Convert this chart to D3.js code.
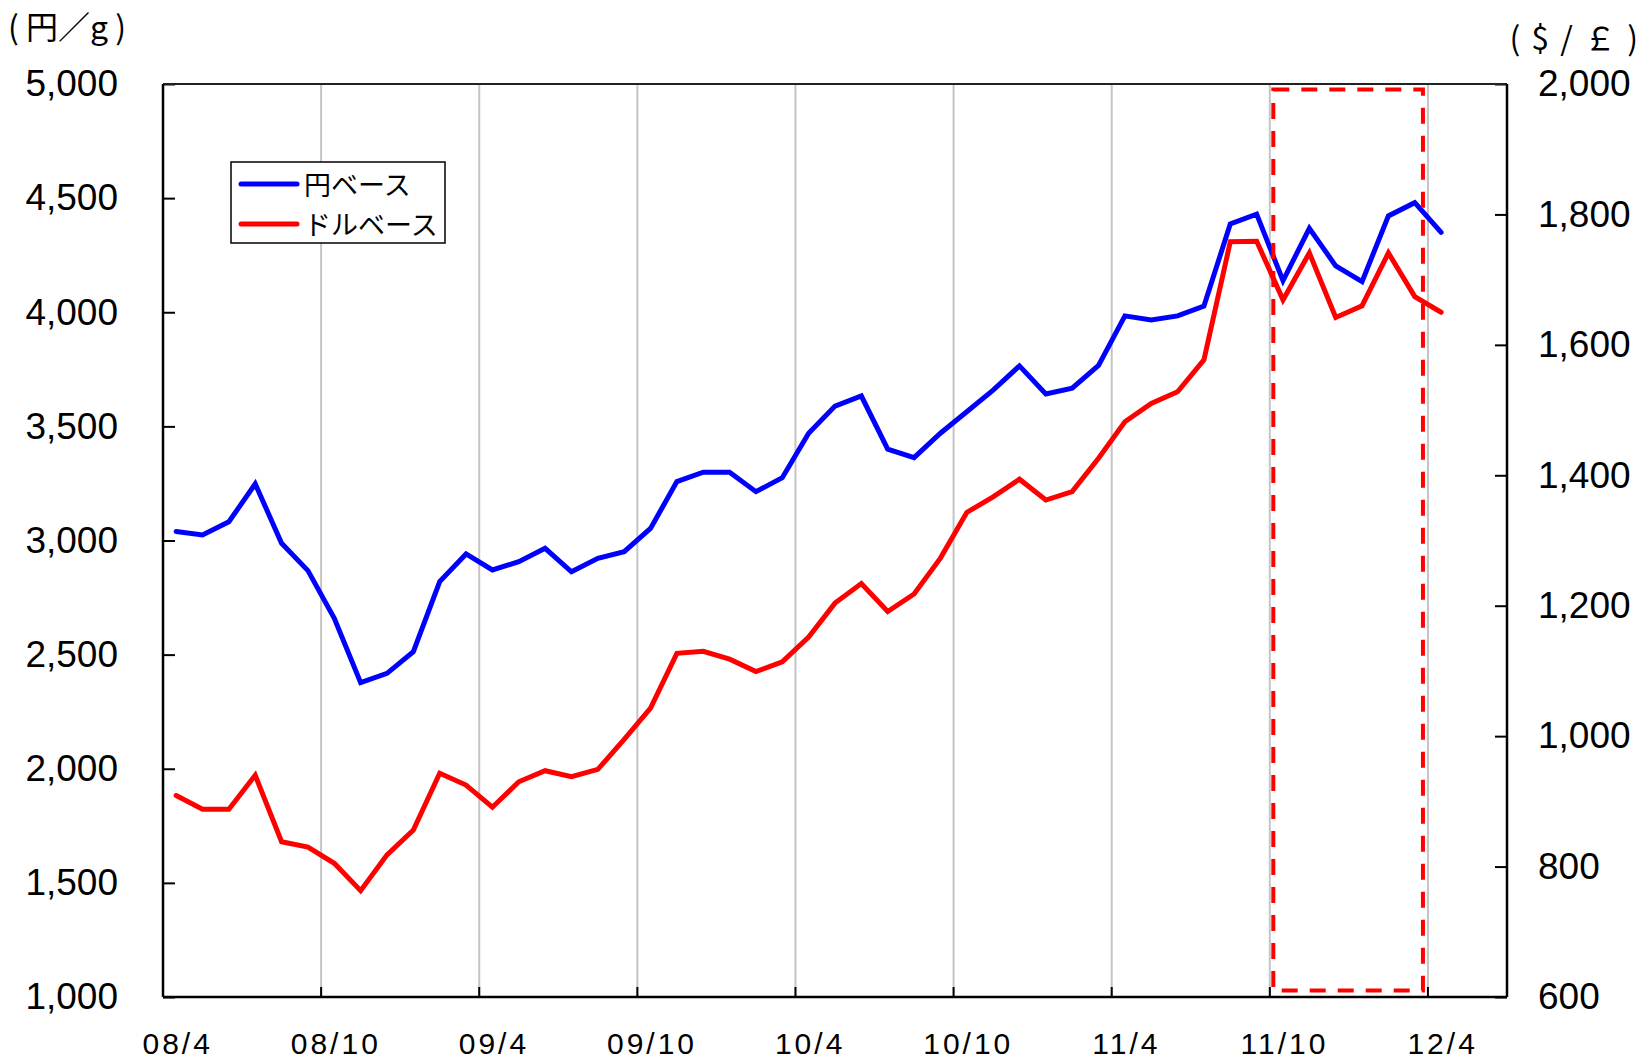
<!DOCTYPE html>
<html>
<head>
<meta charset="utf-8">
<script src="https://cdn.jsdelivr.net/npm/d3@7"></script>
<style>
  body { margin: 0; background: #fff; }
  svg { display: block; }
</style>
</head>
<body>
<div id="chart"></div>
<script>
// months on the category axis (data runs to 12/4, axis runs to 12/6)
var months = ["08/4","08/5","08/6","08/7","08/8","08/9","08/10","08/11","08/12",
  "09/1","09/2","09/3","09/4","09/5","09/6","09/7","09/8","09/9","09/10","09/11","09/12",
  "10/1","10/2","10/3","10/4","10/5","10/6","10/7","10/8","10/9","10/10","10/11","10/12",
  "11/1","11/2","11/3","11/4","11/5","11/6","11/7","11/8","11/9","11/10","11/11","11/12",
  "12/1","12/2","12/3","12/4","12/5","12/6"];
var tickMonths = ["08/4","08/10","09/4","09/10","10/4","10/10","11/4","11/10","12/4"];

// 円ベース (left axis, 円/g)
var yenBase = [3039,3024,3082,3248,2988,2868,2659,2377,2418,
  2513,2820,2941,2871,2907,2966,2863,2922,2951,3053,3258,3299,
  3299,3214,3275,3470,3589,3633,3400,3363,3470,3564,3659,3765,
  3642,3667,3767,3984,3966,3984,4027,4387,4430,4138,4368,4203,
  4134,4422,4480,4350];
// ドルベース (right axis, $/oz)
var dollarBase = [909,888,888,940,838,830,805,763,818,
  856,943,925,891,930,947,938,949,995,1043,1127,1130,
  1118,1099,1114,1152,1204,1234,1191,1218,1273,1343,1367,1394,
  1362,1375,1426,1482,1510,1528,1577,1758,1759,1669,1741,1642,
  1660,1741,1674,1650];

var leftTicks = [1000,1500,2000,2500,3000,3500,4000,4500,5000];
var rightTicks = [600,800,1000,1200,1400,1600,1800,2000];
var highlight = {from: "11/10", to: "12/3"};

var width = 1645, height = 1060;
var plot = {left: 163, top: 84, right: 1507, bottom: 997};

var svg = d3.select("#chart").append("svg")
    .attr("width", width)
    .attr("height", height);

var x = d3.scaleBand().domain(months).range([plot.left, plot.right]).padding(0);
var bw = x.bandwidth();
var yL = d3.scaleLinear().domain([1000, 5000]).range([plot.bottom, plot.top]);
var yR = d3.scaleLinear().domain([600, 2000]).range([plot.bottom, plot.top]);

// vertical grid lines at half-year boundaries
svg.append("g").selectAll("line")
    .data(tickMonths.slice(1))
  .enter().append("line")
    .attr("x1", function(d) { return x(d); })
    .attr("x2", function(d) { return x(d); })
    .attr("y1", plot.top)
    .attr("y2", plot.bottom)
    .style("stroke", "#c4c4c4")
    .style("stroke-width", 2);

// bottom ticks (inward)
svg.append("g").selectAll("line")
    .data(tickMonths)
  .enter().append("line")
    .attr("x1", function(d) { return x(d); })
    .attr("x2", function(d) { return x(d); })
    .attr("y1", plot.bottom)
    .attr("y2", plot.bottom - 10)
    .style("stroke", "#000")
    .style("stroke-width", 2);

// x labels at the first month of each half-year
svg.append("g").selectAll("text")
    .data(tickMonths)
  .enter().append("text")
    .attr("x", function(d) { return x(d) + bw / 2 + 1.5; })
    .attr("y", 1054)
    .style("text-anchor", "middle")
    .style("font-family", "'Liberation Sans Narrow', 'Liberation Sans', sans-serif")
    .style("font-size", "30px")
    .style("letter-spacing", "3px")
    .style("fill", "#000")
    .text(function(d) { return d; });

// left axis
var leftAxis = svg.append("g")
    .attr("transform", "translate(" + plot.left + ",0)")
    .call(d3.axisLeft(yL).tickValues(leftTicks).tickFormat(d3.format(",")).tickSize(-12).tickPadding(45));
// right axis
var rightAxis = svg.append("g")
    .attr("transform", "translate(" + plot.right + ",0)")
    .call(d3.axisRight(yR).tickValues(rightTicks).tickFormat(d3.format(",")).tickSize(-12).tickPadding(31));

[leftAxis, rightAxis].forEach(function(ax) {
  ax.select(".domain").remove();
  ax.selectAll(".tick line").style("stroke", "#000").style("stroke-width", 2);
  ax.selectAll(".tick text")
    .style("font-family", "'Liberation Sans', Arial, sans-serif")
    .style("font-size", "37px")
    .style("fill", "#000");
});

// frame
svg.append("line").attr("x1", plot.left).attr("x2", plot.right).attr("y1", plot.top).attr("y2", plot.top)
    .style("stroke", "#222").style("stroke-width", 2);
svg.append("line").attr("x1", plot.left).attr("x2", plot.right).attr("y1", plot.bottom).attr("y2", plot.bottom)
    .style("stroke", "#000").style("stroke-width", 2.5);
svg.append("line").attr("x1", plot.left).attr("x2", plot.left).attr("y1", plot.top).attr("y2", plot.bottom)
    .style("stroke", "#000").style("stroke-width", 2.5);
svg.append("line").attr("x1", plot.right).attr("x2", plot.right).attr("y1", plot.top).attr("y2", plot.bottom)
    .style("stroke", "#000").style("stroke-width", 2.5);

// lines
var lineL = d3.line()
    .x(function(d, i) { return x(months[i]) + bw / 2; })
    .y(function(d) { return yL(d); });
var lineR = d3.line()
    .x(function(d, i) { return x(months[i]) + bw / 2; })
    .y(function(d) { return yR(d); });

svg.append("path")
    .datum(dollarBase)
    .attr("d", lineR)
    .style("fill", "none")
    .style("stroke", "#ff0000")
    .style("stroke-width", 5)
    .style("stroke-linecap", "round");

svg.append("path")
    .datum(yenBase)
    .attr("d", lineL)
    .style("fill", "none")
    .style("stroke", "#0000ff")
    .style("stroke-width", 5)
    .style("stroke-linecap", "round");

// dashed highlight box
var hx0 = x(highlight.from) + 3.5;
var hx1 = x(highlight.to) + bw - 5;
svg.append("rect")
    .attr("x", hx0)
    .attr("y", yL(4976))
    .attr("width", hx1 - hx0)
    .attr("height", yL(1028) - yL(4976))
    .style("fill", "none")
    .style("stroke", "#ff0000")
    .style("stroke-width", 4)
    .style("stroke-dasharray", "16,12");

// axis unit titles
svg.append("text")
    .attr("x", 8)
    .attr("y", 39)
    .style("font-family", "'Noto Sans CJK JP', sans-serif")
    .style("font-size", "32px")
    .style("fill", "#000")
    .text("( 円／g )");
svg.append("text")
    .attr("x", 1640)
    .attr("y", 50)
    .style("text-anchor", "end")
    .style("font-family", "'Noto Sans CJK JP', sans-serif")
    .style("font-size", "32px")
    .style("letter-spacing", "2px")
    .style("fill", "#000")
    .text("( $ / ￡ )");

// legend
var legendItems = [
  {name: "円ベース", color: "#0000ff"},
  {name: "ドルベース", color: "#ff0000"}
];
var legendBox = svg.append("g").attr("transform", "translate(231,162)");
legendBox.append("rect")
    .attr("width", 214)
    .attr("height", 81)
    .style("fill", "#fff")
    .style("stroke", "#000")
    .style("stroke-width", 1.5);
var legend = legendBox.selectAll(".legend")
    .data(legendItems)
  .enter().append("g")
    .attr("class", "legend")
    .attr("transform", function(d, i) { return "translate(0," + (22 + i * 40) + ")"; });
legend.append("line")
    .attr("x1", 10).attr("x2", 66)
    .style("stroke", function(d) { return d.color; })
    .style("stroke-width", 5)
    .style("stroke-linecap", "round");
legend.append("text")
    .attr("x", 73)
    .attr("y", 2)
    .attr("dy", ".35em")
    .style("font-family", "'Noto Sans CJK JP', sans-serif")
    .style("font-size", "27px")
    .style("fill", "#000")
    .text(function(d) { return d.name; });
</script>
</body>
</html>
